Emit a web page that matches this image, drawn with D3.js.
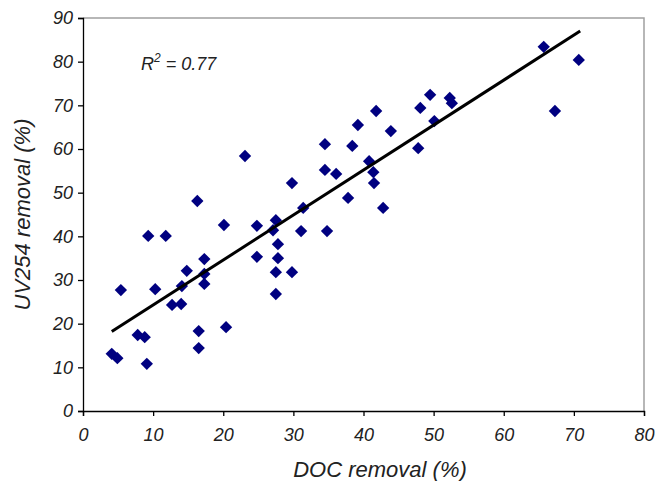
<!DOCTYPE html>
<html><head><meta charset="utf-8">
<script src="https://cdn.jsdelivr.net/npm/d3@7"></script>
<style>body{margin:0;background:#fff;} svg{display:block;}</style>
</head><body>
<script>
const docRemoval = [4.1,4.9,5.4,7.8,8.8,9.1,9.3,10.3,11.8,12.7,14.0,14.1,14.8,16.3,16.5,16.5,17.3,17.3,17.3,20.1,20.4,23.1,24.8,24.8,27.1,27.5,27.8,27.8,27.5,27.5,29.8,29.8,31.1,31.4,34.5,34.5,34.8,36.1,37.8,38.4,39.2,40.8,41.4,41.5,41.8,42.8,43.9,47.8,48.1,49.5,50.1,52.3,52.6,65.7,67.3,70.7];
const uvRemoval = [13.1,12.1,27.7,17.4,16.9,10.8,40.1,27.9,40.1,24.3,24.5,28.6,32.1,48.1,18.3,14.4,34.8,31.4,29.1,42.6,19.2,58.4,42.4,35.3,41.4,43.7,38.2,35.0,31.8,26.8,52.2,31.8,41.2,46.5,61.1,55.2,41.2,54.3,48.8,60.7,65.5,57.2,54.7,52.2,68.7,46.5,64.1,60.2,69.4,72.4,66.4,71.7,70.5,83.4,68.7,80.4];
const trendX = [4.1, 70.9];
const trendY = [18.2, 87.0];
const xTicks = [0,10,20,30,40,50,60,70,80];
const yTicks = [0,10,20,30,40,50,60,70,80,90];
const xTitle = "DOC removal (%)";
const yTitle = "UV254 removal (%)";
const r2Value = "0.77";

const W = 658, H = 481;
const svg = d3.select("body").append("svg").attr("width", W).attr("height", H);
const x = d3.scaleLinear().domain([0,80]).range([83,644]);
const y = d3.scaleLinear().domain([0,90]).range([411,18]);
const font = "'Liberation Sans', Arial, sans-serif";

svg.append("path")
  .attr("d", `M${x(0)},${y(90)}H${x(80)}V${y(0)}`)
  .attr("fill","none").attr("stroke","#a0a0a0").attr("stroke-width",1.5);

const xAxis = svg.append("g").attr("transform",`translate(0,${y(0)})`)
  .call(d3.axisBottom(x).tickValues(xTicks).tickSize(5).tickPadding(12).tickFormat(d3.format("d")));
const yAxis = svg.append("g").attr("transform",`translate(${x(0)},0)`)
  .call(d3.axisLeft(y).tickValues(yTicks).tickSize(5).tickPadding(5).tickFormat(d3.format("d")));
[xAxis,yAxis].forEach(g=>{
  g.select(".domain").attr("stroke","#000").attr("stroke-width",1.3);
  g.selectAll(".tick line").attr("stroke","#000").attr("stroke-width",1.3);
  g.selectAll("text").attr("font-family",font).attr("font-style","italic")
   .attr("font-size",18).attr("fill","#222");
});

const data = docRemoval.map((d,i)=>({x:d,y:uvRemoval[i]}));
svg.append("g").selectAll("path").data(data).join("path")
  .attr("d", d3.symbol(d3.symbolSquare, 76)())
  .attr("transform", d=>`translate(${x(d.x)},${y(d.y)}) rotate(45)`)
  .attr("fill","#000080");

const tl = trendX.map((d,i)=>[x(d), y(trendY[i])]);
svg.append("path").attr("d", d3.line()(tl))
  .attr("stroke","#000").attr("stroke-width",3).attr("fill","none");

const r2 = svg.append("text").attr("x",141).attr("y",70)
  .attr("font-family",font).attr("font-style","italic").attr("font-size",18).attr("fill","#222");
r2.append("tspan").text("R");
r2.append("tspan").attr("font-size",12).attr("dy",-8).text("2");
r2.append("tspan").attr("dy",8).text(" = " + r2Value);

svg.append("text").attr("x",380).attr("y",477).attr("text-anchor","middle")
  .attr("font-family",font).attr("font-style","italic").attr("font-size",22).attr("fill","#222")
  .text(xTitle);
svg.append("text").attr("transform",`translate(30,${(y(0)+y(90))/2}) rotate(-90)`).attr("text-anchor","middle")
  .attr("font-family",font).attr("font-style","italic").attr("font-size",22).attr("fill","#222")
  .text(yTitle);
</script>
</body></html>
